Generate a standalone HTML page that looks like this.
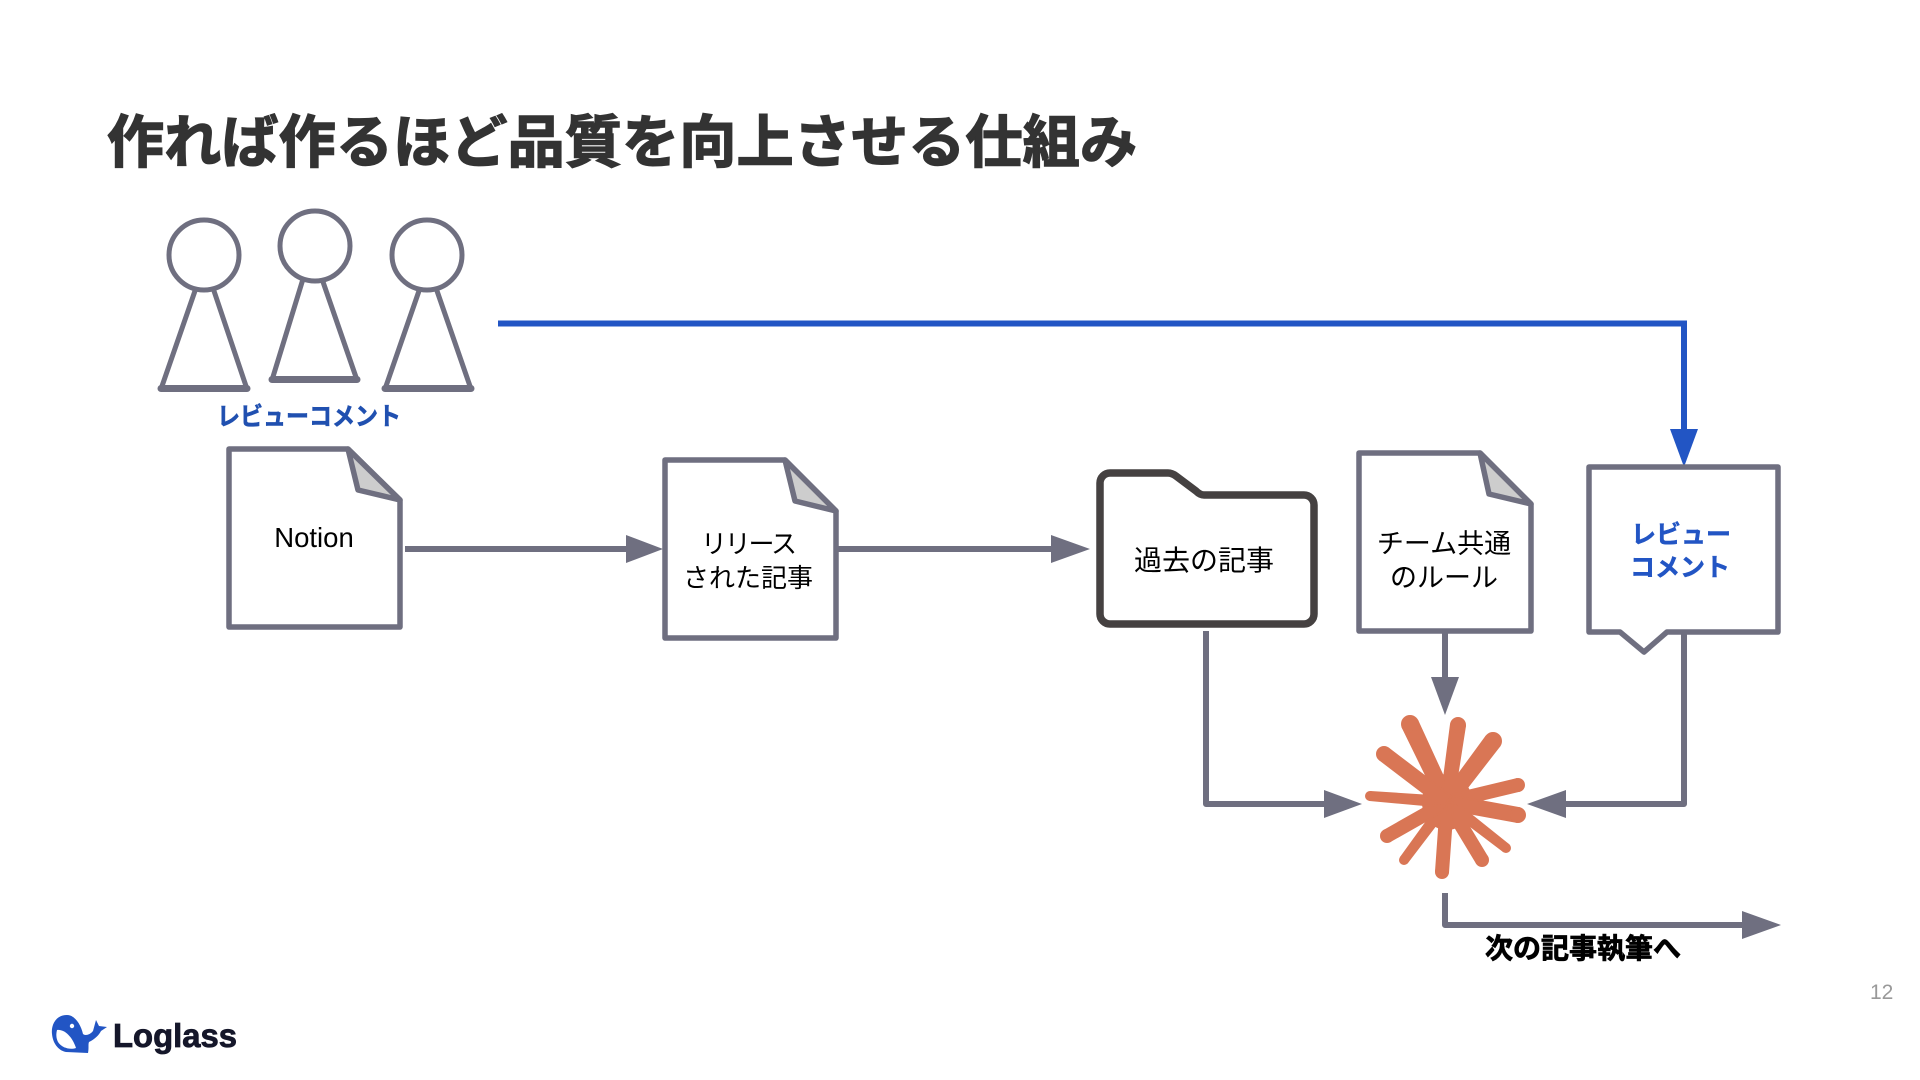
<!DOCTYPE html>
<html lang="ja">
<head>
<meta charset="utf-8">
<title>作れば作るほど品質を向上させる仕組み</title>
<style>
html,body{margin:0;padding:0;background:#fff;width:1920px;height:1080px;overflow:hidden}
svg{display:block}
text{font-family:"Liberation Sans","Noto Sans CJK JP",sans-serif}
</style>
</head>
<body>
<svg width="1920" height="1080" viewBox="0 0 1920 1080" xmlns="http://www.w3.org/2000/svg">
<rect width="1920" height="1080" fill="#fff"/>

<!-- title -->
<text x="107" y="162" font-size="57" font-weight="700" fill="#333" stroke="#333" stroke-width="1.5" textLength="1030" lengthAdjust="spacing">作れば作るほど品質を向上させる仕組み</text>

<!-- people -->
<g fill="#fff" stroke="#6f6f80" stroke-width="5" stroke-linejoin="round">
<polygon points="196,288 213,288 247,389 161,389"/>
<circle cx="204" cy="255" r="35"/>
<line x1="161" y1="388.5" x2="247" y2="388.5" stroke-width="7" stroke-linecap="round"/>
<polygon points="303,279 322,279 357,380 272,380"/>
<circle cx="315" cy="246" r="35"/>
<line x1="272" y1="379.5" x2="357" y2="379.5" stroke-width="7" stroke-linecap="round"/>
<polygon points="420,288 436,288 471,389 385,389"/>
<circle cx="427" cy="255" r="35"/>
<line x1="385" y1="388.5" x2="471" y2="388.5" stroke-width="7" stroke-linecap="round"/>
</g>
<text x="309" y="425" font-size="25" font-weight="700" fill="#2050b0" stroke="#2050b0" stroke-width=".6" text-anchor="middle" textLength="184" lengthAdjust="spacingAndGlyphs">レビューコメント</text>

<!-- blue connector -->
<polyline points="498,323.5 1684,323.5 1684,432" fill="none" stroke="#2255c4" stroke-width="6"/>
<polygon points="1670,429 1698,429 1684,467" fill="#2255c4"/>

<!-- documents -->
<g fill="#fff" stroke="#6f6f80" stroke-width="5.5" stroke-linejoin="round">
<polygon points="229,449 348,449 400,500 400,627 229,627"/>
<polygon points="348,449 400,500 358,490" fill="#cdcdcd"/>
<polygon points="665,460 785,460 836,511 836,638 665,638"/>
<polygon points="785,460 836,511 795,501" fill="#cdcdcd"/>
<polygon points="1359,453 1480,453 1531,504 1531,631 1359,631"/>
<polygon points="1480,453 1531,504 1489,494" fill="#cdcdcd"/>
<polygon points="1589,467 1778,467 1778,632 1667,632 1644,652 1620,632 1589,632"/>
</g>

<!-- folder -->
<path d="M1100,483 a10,10 0 0 1 10,-10 H1168 Q1172,473 1176,476 L1196,491 Q1200,495 1204,495 H1304 a10,10 0 0 1 10,10 V614 a10,10 0 0 1 -10,10 H1110 a10,10 0 0 1 -10,-10 Z" fill="#fff" stroke="#454141" stroke-width="7.5" stroke-linejoin="round"/>

<!-- connectors -->
<g fill="none" stroke="#6f6f80" stroke-width="6">
<line x1="405" y1="549" x2="630" y2="549"/>
<line x1="838" y1="549" x2="1056" y2="549"/>
<polyline points="1206,631 1206,804 1330,804" stroke-linejoin="round"/>
<line x1="1445" y1="633" x2="1445" y2="682"/>
<polyline points="1684,632 1684,804 1560,804" stroke-linejoin="round"/>
<polyline points="1445,893 1445,925 1748,925" stroke-linejoin="round"/>
</g>
<g fill="#6f6f80">
<polygon points="626,535 663,549 626,563"/>
<polygon points="1051,535 1090,549 1051,563"/>
<polygon points="1324,790 1362,804 1324,818"/>
<polygon points="1431,677 1459,677 1445,715"/>
<polygon points="1566,790 1527,804 1566,818"/>
<polygon points="1742,911 1781,925 1742,939"/>
</g>

<!-- starburst -->
<g fill="#d97655" stroke="#d97655" stroke-width="2" stroke-linejoin="round">
<ellipse cx="1447" cy="802" rx="24" ry="27"/>
<polygon points="1417.3,720.6 1402.7,727.4 1440.6,804.9 1453.4,799.1"/><circle cx="1410" cy="724" r="8"/>
<polygon points="1465,725.8 1451,724.2 1441,801.4 1453,802.6"/><circle cx="1458" cy="725" r="7"/>
<polygon points="1499.6,745.6 1486.4,736.4 1441.3,797.9 1452.7,806.1"/><circle cx="1493" cy="741" r="8"/>
<polygon points="1519.5,790.8 1516.5,779.2 1445.5,796.2 1448.5,807.8"/><circle cx="1518" cy="785" r="6"/>
<polygon points="1516.8,821.9 1519.2,808.1 1448.2,795.1 1445.8,808.9"/><circle cx="1518" cy="815" r="7"/>
<polygon points="1503.5,851.1 1508.5,844.9 1450.1,798.1 1443.9,805.9"/><circle cx="1506" cy="848" r="4"/>
<polygon points="1476.8,863 1487.2,857 1452.2,799 1441.8,805"/><circle cx="1482" cy="860" r="6"/>
<polygon points="1448,872.6 1436,871.4 1441,801.4 1453,802.6"/><circle cx="1442" cy="872" r="6"/>
<polygon points="1407.1,862.5 1400.9,857.5 1443.1,798.9 1450.9,805.1"/><circle cx="1404" cy="860" r="4"/>
<polygon points="1389.8,841.3 1384.2,830.7 1444.2,796.7 1449.8,807.3"/><circle cx="1387" cy="836" r="6"/>
<polygon points="1369.6,800 1370.4,792 1447.4,797 1446.6,807"/><circle cx="1370" cy="796" r="4"/>
<polygon points="1388.2,748.4 1379.8,759.6 1442.8,807.6 1451.2,796.4"/><circle cx="1384" cy="754" r="7"/>
</g>

<!-- labels -->
<g fill="#000" text-anchor="middle" font-size="26">
<text x="314" y="547" font-size="27.5">Notion</text>
<text x="749" y="553" textLength="96">リリース</text>
<text x="748" y="587">された記事</text>
<text x="1204" y="570" font-size="28">過去の記事</text>
<text x="1444" y="553" font-size="27">チーム共通</text>
<text x="1444" y="587" font-size="27">のルール</text>
</g>
<g fill="#2255c4" text-anchor="middle" font-size="25" font-weight="700" stroke="#2255c4" stroke-width=".5">
<text x="1681" y="543">レビュー</text>
<text x="1680" y="576">コメント</text>
</g>
<text x="1583" y="958" font-size="28" font-weight="700" fill="#000" stroke="#000" stroke-width=".8" text-anchor="middle">次の記事執筆へ</text>

<!-- page number -->
<text x="1870" y="999" font-size="21" fill="#999">12</text>

<!-- logo -->
<g>
<path d="M67,1015 C55,1015 51,1026 52,1034 C53,1045 60,1051 66,1052 L88,1053 C89,1048 88,1044 89,1042 C95,1039 99,1035 101,1031 L107,1027 L99,1026 L96,1020 L93,1031 C90,1035 85,1036 83,1034 C81,1025 75,1015 67,1015 Z" fill="#2255c4"/>
<path d="M57,1030 C64,1029 72,1036 76,1048 C70,1050 62,1048 58,1042 C56,1038 56,1034 57,1030 Z" fill="#fff"/>
<circle cx="72" cy="1026" r="2.2" fill="#fff"/>
<text x="113" y="1047" font-size="33" font-weight="700" fill="#15172a" stroke="#15172a" stroke-width=".8" textLength="124" lengthAdjust="spacingAndGlyphs">Loglass</text>
</g>
</svg>
</body>
</html>
